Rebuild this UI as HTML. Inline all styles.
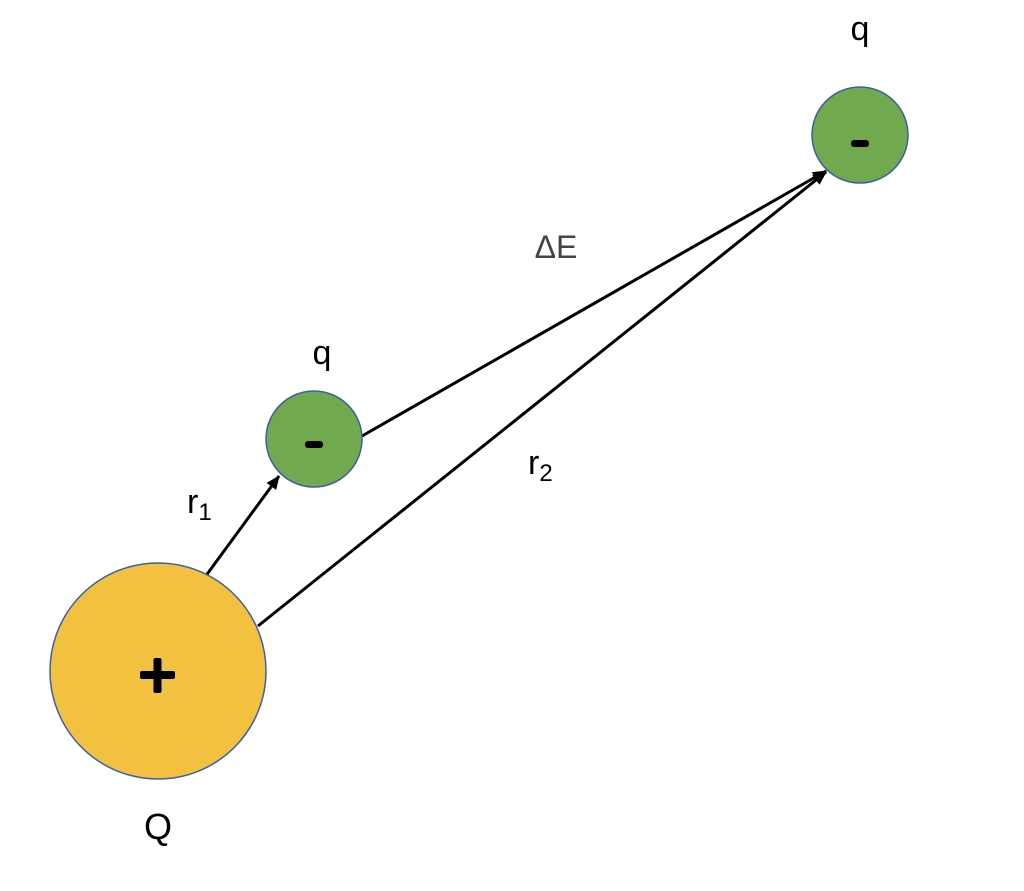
<!DOCTYPE html>
<html><head><meta charset="utf-8"><style>
html,body{margin:0;padding:0;background:#fff;}
svg{display:block;}
text{font-family:"Liberation Sans","DejaVu Sans",sans-serif;}
</style></head><body>
<svg width="1024" height="891" viewBox="0 0 1024 891" xmlns="http://www.w3.org/2000/svg">
<defs>
<marker id="ah2" markerWidth="14" markerHeight="14" refX="13" refY="7" orient="auto" markerUnits="userSpaceOnUse" viewBox="0 0 14 14">
<path d="M0,1 L14,7 L0,13 Z" fill="#000"/>
</marker>
</defs>
<line x1="205" y1="577" x2="279" y2="476" stroke="#000" stroke-width="3" marker-end="url(#ah2)"/>
<line x1="362" y1="436" x2="826" y2="171" stroke="#000" stroke-width="3" marker-end="url(#ah2)"/>
<line x1="258" y1="626" x2="826" y2="172" stroke="#000" stroke-width="3" marker-end="url(#ah2)"/>
<circle cx="158" cy="671" r="108" fill="#f2c13f" stroke="#3d5fa8" stroke-width="1.5"/>
<circle cx="314" cy="439" r="48" fill="#71a94e" stroke="#3d5fa8" stroke-width="1.5"/>
<circle cx="860" cy="135" r="48" fill="#71a94e" stroke="#3d5fa8" stroke-width="1.5"/>
<rect x="140" y="671" width="35" height="8" rx="2" fill="#000"/>
<rect x="153.5" y="658" width="8" height="35" rx="2" fill="#000"/>
<rect x="305" y="441" width="18" height="7" rx="3" fill="#000"/>
<rect x="851" y="140" width="18" height="7" rx="3" fill="#000"/>
<text x="860" y="40" font-size="34" text-anchor="middle" fill="#000">q</text>
<text x="322" y="364" font-size="34" text-anchor="middle" fill="#000">q</text>
<text x="556" y="258" font-size="32" text-anchor="middle" fill="#444">ΔE</text>
<text x="187" y="513" font-size="34" fill="#000">r<tspan font-size="24" dy="7">1</tspan></text>
<text x="528" y="474" font-size="34" fill="#000">r<tspan font-size="24" dy="7">2</tspan></text>
<text x="158" y="839" font-size="36" text-anchor="middle" fill="#000">Q</text>
</svg>
</body></html>
